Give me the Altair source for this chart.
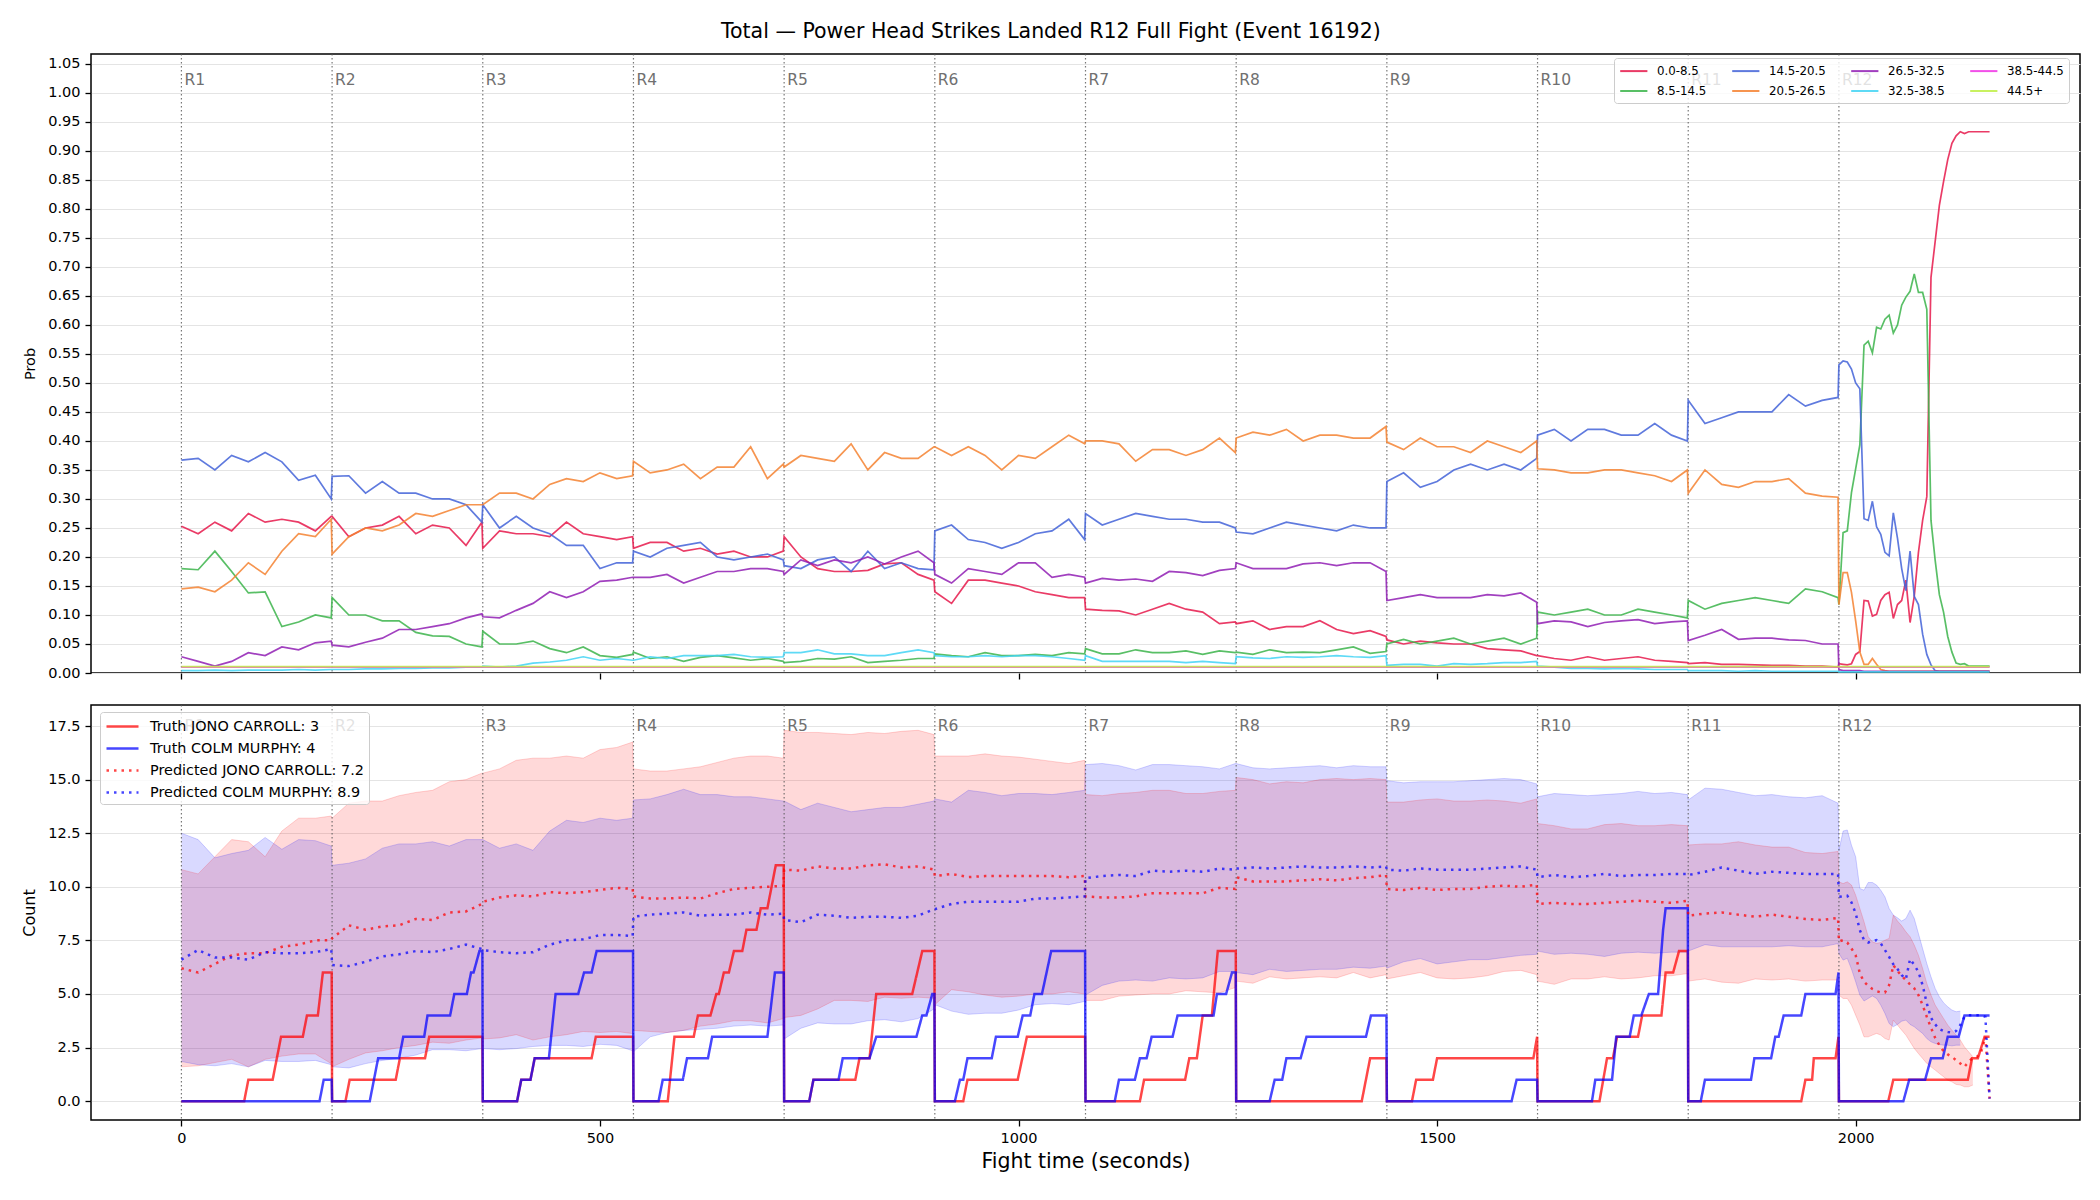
import altair as alt
import pandas as pd

# ---------------- time grids ----------------
ROUND_STARTS = [0, 180, 360, 540, 720, 900, 1080, 1260, 1440, 1620, 1800, 1980]
ROUND_NAMES = ["R1", "R2", "R3", "R4", "R5", "R6", "R7", "R8", "R9", "R10", "R11", "R12"]
STEP_OFFSETS = [0, 20, 40, 60, 80, 100, 120, 140, 160, 179]
R12_OFFSETS = [0, 5, 10, 15, 20, 25, 30, 35, 40, 45, 50, 55, 60, 65, 70, 75, 80, 85, 90,
               95, 100, 105, 110, 115, 120, 125, 130, 135, 140, 145, 150, 155, 160, 165,
               170, 175, 180]
FLAT_T = [0, 180, 360, 540, 720, 900, 1080, 1260, 1440, 1620, 1800, 1980, 2160]

BASE_T = [s + o for s in ROUND_STARTS[:11] for o in STEP_OFFSETS]
GRID_T = BASE_T + [1980 + o for o in R12_OFFSETS]
BAND_T_RED = BASE_T + [1980 + o for o in R12_OFFSETS[:33]]
BAND_T_BLUE = BASE_T + [1980 + o for o in R12_OFFSETS[:30]]

# ---------------- top panel: bucket probabilities ----------------
P_0_8 = [
    0.253, 0.24, 0.26, 0.245, 0.275, 0.26, 0.265, 0.26, 0.245, 0.27,
    0.27, 0.235, 0.25, 0.255, 0.27, 0.24, 0.255, 0.25, 0.22, 0.26,
    0.215, 0.245, 0.24, 0.24, 0.235, 0.26, 0.24, 0.235, 0.23, 0.235,
    0.215, 0.225, 0.225, 0.21, 0.215, 0.205, 0.21, 0.2, 0.2, 0.21,
    0.235, 0.2, 0.18, 0.175, 0.175, 0.177, 0.188, 0.19, 0.17, 0.16,
    0.14, 0.12, 0.16, 0.16, 0.155, 0.15, 0.14, 0.135, 0.13, 0.13,
    0.11, 0.108, 0.107, 0.1, 0.11, 0.12, 0.11, 0.105, 0.085, 0.088,
    0.085, 0.09, 0.075, 0.08, 0.08, 0.09, 0.075, 0.068, 0.073, 0.063,
    0.057, 0.05, 0.055, 0.052, 0.05, 0.05, 0.042, 0.04, 0.038, 0.03,
    0.03, 0.025, 0.022, 0.028, 0.022, 0.025, 0.028, 0.022, 0.02, 0.018,
    0.016, 0.018, 0.015, 0.015, 0.014, 0.013, 0.013, 0.012, 0.012, 0.01,
    0.016, 0.015, 0.014, 0.016, 0.032, 0.037, 0.125, 0.124, 0.098, 0.101, 0.125, 0.135,
    0.139, 0.094, 0.118, 0.125, 0.16, 0.087, 0.132, 0.208, 0.263, 0.304, 0.682, 0.744,
    0.806, 0.847, 0.885, 0.913, 0.926, 0.933, 0.93, 0.933, 0.933, 0.933, 0.933, 0.933, 0.933,
]
P_8_14 = [
    0.18, 0.178, 0.21, 0.175, 0.138, 0.14, 0.08, 0.088, 0.1, 0.095,
    0.13, 0.1, 0.1, 0.09, 0.09, 0.07, 0.064, 0.063, 0.05, 0.045,
    0.072, 0.05, 0.05, 0.055, 0.042, 0.035, 0.045, 0.03, 0.027, 0.032,
    0.036, 0.025, 0.028, 0.02, 0.027, 0.03, 0.026, 0.022, 0.025, 0.02,
    0.018, 0.02, 0.025, 0.024, 0.028, 0.018, 0.02, 0.022, 0.025, 0.025,
    0.033, 0.03, 0.028, 0.035, 0.03, 0.03, 0.032, 0.03, 0.035, 0.033,
    0.042, 0.033, 0.033, 0.04, 0.035, 0.035, 0.038, 0.032, 0.038, 0.035,
    0.036, 0.032, 0.04, 0.035, 0.036, 0.035, 0.04, 0.045, 0.034, 0.037,
    0.05, 0.058, 0.05, 0.055, 0.06, 0.05, 0.055, 0.06, 0.05, 0.06,
    0.105, 0.1, 0.105, 0.11, 0.1, 0.1, 0.11, 0.105, 0.1, 0.095,
    0.125, 0.11, 0.12, 0.125, 0.13, 0.125, 0.12, 0.145, 0.14, 0.13,
    0.118, 0.242, 0.245, 0.311, 0.352, 0.393, 0.565, 0.572, 0.552, 0.596, 0.593, 0.61,
    0.617, 0.586, 0.6, 0.634, 0.648, 0.658, 0.688, 0.656, 0.656, 0.627, 0.263, 0.194,
    0.135, 0.105, 0.063, 0.036, 0.017, 0.015, 0.016, 0.012, 0.012, 0.012, 0.012, 0.012, 0.012,
]
P_14_20 = [
    0.367, 0.37, 0.35, 0.375, 0.364, 0.38, 0.364, 0.332, 0.341, 0.3,
    0.339, 0.34, 0.31, 0.33, 0.31, 0.31, 0.3, 0.3, 0.29, 0.26,
    0.29, 0.25, 0.27, 0.25, 0.24, 0.22, 0.22, 0.18, 0.19, 0.19,
    0.21, 0.2, 0.215, 0.22, 0.225, 0.2, 0.195, 0.2, 0.205, 0.195,
    0.185, 0.18, 0.195, 0.2, 0.175, 0.21, 0.18, 0.19, 0.18, 0.178,
    0.245, 0.255, 0.23, 0.225, 0.215, 0.225, 0.24, 0.245, 0.265, 0.23,
    0.275, 0.255, 0.265, 0.275, 0.27, 0.265, 0.265, 0.26, 0.26, 0.25,
    0.243, 0.24, 0.25, 0.26, 0.255, 0.25, 0.245, 0.255, 0.25, 0.25,
    0.33, 0.345, 0.32, 0.33, 0.35, 0.36, 0.35, 0.36, 0.35, 0.37,
    0.41, 0.42, 0.4, 0.42, 0.42, 0.41, 0.41, 0.43, 0.41, 0.4,
    0.47, 0.43, 0.44, 0.45, 0.45, 0.45, 0.48, 0.46, 0.47, 0.475,
    0.531, 0.538, 0.536, 0.524, 0.5, 0.49, 0.266, 0.263, 0.296, 0.252, 0.239, 0.208,
    0.202, 0.276, 0.232, 0.18, 0.142, 0.21, 0.132, 0.118, 0.067, 0.032, 0.014, 0.004,
    0.003, 0.003, 0.003, 0.003, 0.003, 0.003, 0.003, 0.003, 0.003, 0.003, 0.003, 0.003, 0.003,
]
P_20_26 = [
    0.145, 0.148, 0.14, 0.16, 0.19, 0.17, 0.21, 0.24, 0.235, 0.265,
    0.205, 0.235, 0.25, 0.245, 0.255, 0.275, 0.27, 0.28, 0.29, 0.29,
    0.29, 0.31, 0.31, 0.3, 0.325, 0.335, 0.33, 0.345, 0.335, 0.34,
    0.365, 0.345, 0.35, 0.36, 0.335, 0.355, 0.355, 0.39, 0.335, 0.36,
    0.355, 0.375, 0.37, 0.365, 0.395, 0.35, 0.38, 0.37, 0.37, 0.39,
    0.39, 0.375, 0.39, 0.375, 0.35, 0.375, 0.37, 0.39, 0.41, 0.395,
    0.4, 0.4, 0.395, 0.365, 0.385, 0.385, 0.375, 0.385, 0.405, 0.38,
    0.405, 0.415, 0.41, 0.42, 0.4, 0.41, 0.41, 0.405, 0.405, 0.425,
    0.398, 0.385, 0.405, 0.39, 0.39, 0.38, 0.4, 0.39, 0.38, 0.4,
    0.352, 0.35, 0.345, 0.345, 0.35, 0.35, 0.345, 0.34, 0.33, 0.35,
    0.31, 0.35, 0.325, 0.32, 0.33, 0.33, 0.335, 0.31, 0.305, 0.303,
    0.118, 0.173, 0.173, 0.139, 0.09, 0.036, 0.015, 0.015, 0.025, 0.015, 0.006, 0.004,
    0.003, 0.003, 0.003, 0.003, 0.003, 0.003, 0.003, 0.003, 0.003, 0.003, 0.003, 0.003,
    0.003, 0.003, 0.003, 0.003, 0.003, 0.003, 0.003, 0.003, 0.003, 0.003, 0.003, 0.003, 0.003,
]
P_26_32 = [
    0.028, 0.02, 0.012, 0.02, 0.035, 0.03, 0.045, 0.04, 0.052, 0.055,
    0.048, 0.045, 0.053, 0.06, 0.075, 0.075, 0.08, 0.085, 0.095, 0.102,
    0.097, 0.095, 0.108, 0.12, 0.14, 0.13, 0.14, 0.158, 0.16, 0.165,
    0.165, 0.165, 0.17, 0.155, 0.165, 0.175, 0.175, 0.18, 0.18, 0.175,
    0.17, 0.195, 0.185, 0.195, 0.19, 0.2, 0.188, 0.2, 0.21, 0.19,
    0.17, 0.155, 0.18, 0.175, 0.17, 0.19, 0.19, 0.165, 0.17, 0.165,
    0.155, 0.163, 0.16, 0.162, 0.158, 0.175, 0.173, 0.168, 0.177, 0.18,
    0.19, 0.18, 0.18, 0.18, 0.188, 0.19, 0.185, 0.19, 0.19, 0.175,
    0.125, 0.13, 0.135, 0.13, 0.13, 0.13, 0.135, 0.133, 0.138, 0.122,
    0.085, 0.09, 0.088, 0.08, 0.087, 0.09, 0.092, 0.085, 0.088, 0.09,
    0.056, 0.065, 0.075, 0.058, 0.06, 0.06, 0.057, 0.056, 0.05, 0.05,
    0.006, 0.004, 0.004, 0.004, 0.004, 0.004, 0.003, 0.003, 0.003, 0.003, 0.003, 0.003,
    0.003, 0.003, 0.003, 0.003, 0.003, 0.003, 0.003, 0.003, 0.003, 0.003, 0.003, 0.003,
    0.003, 0.003, 0.003, 0.003, 0.003, 0.003, 0.003, 0.003, 0.003, 0.003, 0.003, 0.003, 0.003,
]
P_32_38 = [
    0.004, 0.004, 0.005, 0.004, 0.005, 0.005, 0.005, 0.006, 0.005, 0.006,
    0.006, 0.006, 0.007, 0.007, 0.008, 0.008, 0.009, 0.009, 0.01, 0.01,
    0.012, 0.01, 0.012, 0.017, 0.019, 0.022, 0.028, 0.022, 0.025, 0.022,
    0.022, 0.028, 0.025, 0.03, 0.03, 0.03, 0.032, 0.028, 0.027, 0.028,
    0.035, 0.035, 0.04, 0.033, 0.033, 0.03, 0.03, 0.035, 0.04, 0.035,
    0.03, 0.028, 0.028, 0.03, 0.028, 0.03, 0.03, 0.028, 0.025, 0.022,
    0.03, 0.02, 0.02, 0.02, 0.02, 0.02, 0.018, 0.02, 0.018, 0.016,
    0.028, 0.026, 0.025, 0.028, 0.027, 0.028, 0.03, 0.028, 0.027, 0.03,
    0.013, 0.015, 0.015, 0.012, 0.016, 0.015, 0.016, 0.018, 0.018, 0.02,
    0.012, 0.01, 0.008, 0.008, 0.007, 0.008, 0.007, 0.006, 0.006, 0.006,
    0.004, 0.004, 0.004, 0.003, 0.004, 0.003, 0.003, 0.003, 0.003, 0.003,
    0.002, 0.002, 0.002, 0.002, 0.002, 0.002, 0.002, 0.002, 0.002, 0.002, 0.002, 0.002,
    0.002, 0.002, 0.002, 0.002, 0.002, 0.002, 0.002, 0.002, 0.002, 0.002, 0.002, 0.002,
    0.002, 0.002, 0.002, 0.002, 0.002, 0.002, 0.002, 0.002, 0.002, 0.002, 0.002, 0.002, 0.002,
]
P_38_44 = [0.01, 0.01, 0.01, 0.01, 0.01, 0.01, 0.01, 0.01, 0.01, 0.01, 0.01, 0.01, 0.01]
P_44_UP = [0.011, 0.011, 0.011, 0.011, 0.011, 0.011, 0.011, 0.011, 0.011, 0.011, 0.011, 0.011, 0.011]

BUCKETS = ["0.0-8.5", "8.5-14.5", "14.5-20.5", "20.5-26.5",
           "26.5-32.5", "32.5-38.5", "38.5-44.5", "44.5+"]
BUCKET_COLORS = ["#e6194b", "#3cb44b", "#4363d8", "#f58231",
                 "#911eb4", "#42d4f4", "#f032e6", "#bfef45"]

# ---------------- bottom panel ----------------
PRED_JONO = [
    6.2, 6.0, 6.4, 6.8, 6.9, 6.9, 7.2, 7.3, 7.5, 7.5,
    7.6, 8.2, 8.0, 8.15, 8.2, 8.5, 8.45, 8.8, 8.85, 9.2,
    9.3, 9.5, 9.6, 9.55, 9.75, 9.7, 9.75, 9.85, 9.95, 9.9,
    9.55, 9.45, 9.45, 9.5, 9.45, 9.7, 9.9, 9.95, 10.0, 10.05,
    10.8, 10.75, 10.95, 10.85, 10.85, 11.0, 11.05, 10.9, 10.95, 10.8,
    10.5, 10.6, 10.45, 10.5, 10.5, 10.5, 10.5, 10.5, 10.45, 10.5,
    9.55, 9.5, 9.5, 9.55, 9.7, 9.7, 9.7, 9.7, 9.95, 9.9,
    10.45, 10.25, 10.25, 10.25, 10.3, 10.35, 10.3, 10.4, 10.45, 10.55,
    9.9, 9.85, 9.95, 9.85, 9.9, 9.9, 10.0, 10.05, 10.0, 10.1,
    9.2, 9.25, 9.2, 9.2, 9.25, 9.3, 9.35, 9.3, 9.25, 9.35,
    8.65, 8.75, 8.8, 8.7, 8.6, 8.7, 8.6, 8.5, 8.45, 8.55,
    7.45, 7.51, 7.4, 7.12, 6.81, 5.96, 5.57, 5.38, 5.23, 5.13, 5.07, 5.07,
    5.41, 6.35, 6.07, 5.85, 5.65, 5.44, 5.26, 4.95, 4.48, 3.93, 3.42, 2.95,
    2.61, 2.33, 2.18, 2.07, 1.91, 1.76, 1.6, 1.84, 2.02, 2.07, 2.3, 3.0, 0.12,
]
PRED_COLM = [
    6.6, 7.05, 6.7, 6.7, 6.6, 6.95, 6.9, 6.9, 6.95, 7.1,
    6.35, 6.3, 6.5, 6.75, 6.85, 7.0, 6.95, 7.1, 7.3, 7.1,
    7.05, 6.95, 6.9, 6.95, 7.3, 7.5, 7.55, 7.75, 7.75, 7.7,
    8.6, 8.7, 8.75, 8.8, 8.65, 8.7, 8.7, 8.8, 8.7, 8.75,
    8.45, 8.35, 8.7, 8.65, 8.55, 8.6, 8.6, 8.55, 8.65, 8.95,
    8.95, 9.2, 9.3, 9.3, 9.3, 9.3, 9.45, 9.45, 9.5, 9.55,
    10.4, 10.5, 10.55, 10.5, 10.75, 10.7, 10.75, 10.7, 10.85, 10.8,
    10.85, 10.9, 10.85, 10.9, 10.95, 10.9, 10.9, 10.95, 10.9, 10.95,
    10.8, 10.75, 10.85, 10.8, 10.8, 10.8, 10.85, 10.9, 10.95, 10.8,
    10.45, 10.55, 10.45, 10.5, 10.6, 10.5, 10.55, 10.55, 10.6, 10.6,
    10.55, 10.7, 10.9, 10.75, 10.6, 10.7, 10.65, 10.6, 10.6, 10.6,
    9.55, 9.53, 9.58, 9.27, 8.76, 7.98, 7.51, 7.4, 7.47, 7.51, 7.36, 7.05,
    6.73, 6.38, 6.16, 5.88, 5.69, 6.63, 6.35, 6.03, 5.41, 4.56, 3.89, 3.58,
    3.36, 3.27, 3.23, 3.2, 3.27, 3.55, 3.93, 4.01, 4.01, 4.01, 4.01, 3.93, 0.12,
]
JONO_HI = [
    10.8, 10.6, 11.4, 12.2, 12.1, 11.4, 12.6, 13.2, 13.2, 13.3,
    13.2, 13.9, 14.0, 14.0, 14.25, 14.4, 14.5, 14.9, 15.0, 15.3,
    15.3, 15.5, 15.9, 16.0, 16.0, 16.1, 16.0, 16.4, 16.5, 16.75,
    15.5, 15.4, 15.4, 15.5, 15.6, 15.8, 16.0, 16.1, 16.1, 16.0,
    17.3, 17.2, 17.2, 17.15, 17.1, 17.2, 17.15, 17.25, 17.3, 17.1,
    16.1, 16.1, 16.1, 16.2, 16.1, 16.05, 15.95, 15.85, 15.75, 15.9,
    14.3, 14.25, 14.35, 14.4, 14.5, 14.5, 14.35, 14.35, 14.45, 14.5,
    15.1, 15.0, 14.8, 14.9, 14.85, 15.0, 15.05, 15.0, 15.05, 15.0,
    13.95, 13.95, 14.05, 14.1, 14.0, 14.0, 14.05, 14.0, 13.9, 14.1,
    12.95, 12.85, 12.7, 12.7, 12.9, 12.95, 12.85, 12.85, 12.9, 12.85,
    11.95, 12.0, 12.0, 12.1, 11.95, 11.85, 11.85, 11.6, 11.55, 11.65,
    10.23, 10.15, 10.23, 10.08, 9.61, 8.99, 8.37, 7.67, 7.43, 7.36, 7.4, 7.51,
    7.59, 8.68, 8.4, 8.18, 7.9, 7.67, 7.28, 6.81, 6.19, 5.49, 4.95, 4.48,
    4.17, 3.86, 3.55, 3.31, 3.08, 2.85, 2.53, 2.3, 2.07,
]
JONO_LO = [
    1.6, 1.65, 1.8, 1.95, 1.6, 1.95, 2.1, 2.2, 2.2, 1.75,
    1.6, 1.95, 2.25, 2.35, 2.5, 2.6, 2.75, 2.7, 2.85, 2.95,
    2.9, 2.95, 3.1, 2.85, 3.0, 3.1, 3.25, 3.2, 3.25, 3.15,
    3.3, 3.25, 3.2, 3.3, 3.5, 3.6, 3.75, 3.75, 3.65, 3.85,
    3.9, 4.0, 4.3, 4.7, 4.7, 4.65, 4.85, 4.8, 4.85, 4.8,
    4.5, 5.2, 5.1, 4.95, 4.85, 4.9, 5.0, 5.0, 5.1, 5.0,
    4.7, 4.7, 4.9, 4.95, 5.0, 5.0, 5.15, 5.1, 5.05, 5.3,
    5.6, 5.5, 5.8, 5.7, 5.75, 5.8, 5.75, 6.0, 5.75, 5.9,
    5.7, 5.85, 6.0, 5.75, 5.7, 5.75, 5.85, 6.05, 6.1, 5.9,
    5.6, 5.45, 5.7, 5.7, 5.8, 5.7, 5.75, 5.85, 5.85, 5.95,
    5.6, 5.7, 5.55, 5.5, 5.7, 5.65, 5.7, 5.6, 5.65, 5.65,
    4.95, 4.79, 4.79, 4.48, 4.01, 3.55, 3.0, 3.0, 3.08, 3.16, 3.08, 2.92,
    2.85, 3.78, 3.55, 3.31, 3.08, 2.77, 2.46, 2.22, 1.99, 1.76, 1.6, 1.45,
    1.29, 1.14, 0.98, 0.9, 0.78, 0.75, 0.67, 0.67, 0.75,
]
COLM_HI = [
    12.5, 12.2, 11.35, 11.55, 11.7, 12.3, 11.75, 12.2, 12.15, 11.9,
    11.0, 11.1, 11.3, 11.8, 12.0, 12.0, 12.1, 11.9, 12.2, 12.2,
    12.2, 11.8, 12.0, 11.7, 12.6, 13.1, 13.0, 13.2, 13.1, 13.2,
    14.05, 14.1, 14.3, 14.55, 14.3, 14.3, 14.2, 14.2, 14.1, 14.0,
    14.0, 13.6, 13.9, 13.7, 13.5, 13.6, 13.7, 13.7, 13.85, 14.0,
    14.1, 13.95, 14.5, 14.4, 14.25, 14.35, 14.35, 14.3, 14.4, 14.5,
    15.7, 15.75, 15.65, 15.45, 15.7, 15.7, 15.65, 15.6, 15.5, 15.75,
    15.75, 15.55, 15.5, 15.55, 15.6, 15.65, 15.55, 15.65, 15.6, 15.6,
    14.95, 14.85, 14.9, 14.9, 14.9, 14.95, 15.0, 15.05, 15.0, 14.8,
    14.2, 14.35, 14.3, 14.25, 14.3, 14.35, 14.45, 14.35, 14.4, 14.3,
    14.05, 14.6, 14.55, 14.4, 14.25, 14.3, 14.2, 14.15, 14.25, 13.9,
    11.7, 12.6, 12.65, 11.94, 11.4, 9.92, 9.84, 10.2, 10.2, 10.08, 9.84, 9.53,
    8.99, 8.68, 8.55, 8.4, 8.52, 8.91, 8.52, 7.82, 7.12, 6.42, 5.8, 5.26,
    4.87, 4.59, 4.4, 4.25, 4.17, 4.2,
]
COLM_LO = [
    1.85, 1.7, 1.65, 1.75, 1.6, 1.9, 1.85, 1.85, 1.9, 1.7,
    1.6, 1.55, 1.75, 1.9, 2.0, 2.15, 2.4, 2.4, 2.35, 2.45,
    2.45, 2.4, 2.45, 2.55, 2.6, 2.6, 2.55, 2.65, 2.6, 2.35,
    2.3, 3.0, 3.2, 3.3, 3.35, 3.4, 3.5, 3.55, 3.5, 3.55,
    2.9, 3.4, 3.65, 3.6, 3.6, 3.75, 3.8, 3.7, 3.85, 4.3,
    4.5, 4.2, 4.05, 4.1, 4.1, 4.25, 4.5, 4.55, 4.5, 4.65,
    4.95, 5.4, 5.6, 5.65, 5.6, 5.75, 5.7, 5.75, 6.05, 6.05,
    6.0, 5.9, 6.15, 6.05, 6.1, 6.15, 6.15, 6.25, 6.2, 6.3,
    6.2, 6.5, 6.65, 6.4, 6.5, 6.6, 6.6, 6.7, 6.8, 6.85,
    7.0, 6.85, 6.9, 6.85, 6.75, 6.9, 6.95, 6.9, 6.95, 6.95,
    7.0, 7.3, 7.2, 7.2, 7.2, 7.2, 7.25, 7.2, 7.2, 7.35,
    6.89, 6.58, 6.66, 6.16, 5.57, 4.95, 4.67, 4.79, 4.91, 4.79, 4.48, 4.09,
    3.62, 3.47, 3.58, 3.73, 3.78, 3.58, 3.47, 3.31, 3.16, 2.92, 2.77, 2.69,
    2.64, 2.61, 2.61, 2.58, 2.61, 2.61,
]

# truth step lines (vertex times and counts, reset at every round)
TRUTH_JONO_T = [0, 75, 80, 109, 119, 145, 150, 163, 169, 179.5,
                180, 196, 201, 256, 261, 291, 296, 359.5,
                360, 401, 406, 417, 422, 490, 495, 539.5,
                540, 581, 589, 612, 617, 632, 639, 642, 648, 654, 660, 670, 675, 687, 692, 700, 710, 719.5,
                720, 750, 755, 805, 810, 822, 830, 873, 885, 899.5,
                900, 934, 939, 999, 1010, 1079.5,
                1080, 1145, 1150, 1199, 1204, 1213, 1220, 1231, 1238, 1259.5,
                1260, 1410, 1420, 1439.5,
                1440, 1470, 1475, 1495, 1500, 1615, 1619.5,
                1620, 1694, 1703, 1710, 1715, 1740, 1745, 1768, 1773, 1782, 1789, 1799.5,
                1800, 1935, 1940, 1948, 1950, 1976, 1979.5,
                1980, 2039, 2045, 2134, 2139, 2146, 2154, 2160]
TRUTH_JONO_V = [0, 0, 1, 1, 3, 3, 4, 4, 6, 6,
                0, 0, 1, 1, 2, 2, 3, 3,
                0, 0, 1, 1, 2, 2, 3, 3,
                0, 0, 3, 3, 4, 4, 5, 5, 6, 6, 7, 7, 8, 8, 9, 9, 11, 11,
                0, 0, 1, 1, 2, 2, 5, 5, 7, 7,
                0, 0, 1, 1, 3, 3,
                0, 0, 1, 1, 2, 2, 4, 4, 7, 7,
                0, 0, 2, 2,
                0, 0, 1, 1, 2, 2, 3,
                0, 0, 2, 2, 3, 3, 4, 4, 6, 6, 7, 7,
                0, 0, 1, 1, 2, 2, 3,
                0, 0, 1, 1, 2, 2, 3, 3]
TRUTH_COLM_T = [0, 165, 170, 179.5,
                180, 225, 235, 260, 265, 290, 294, 321, 326, 341, 346, 349, 356, 359.5,
                360, 401, 406, 417, 422, 439, 447, 474, 481, 490, 496, 539.5,
                540, 570, 575, 599, 604, 629, 634, 700, 709, 719.5,
                720, 750, 755, 785, 790, 822, 830, 878, 885, 890, 897, 899.5,
                900, 924, 930, 934, 939, 968, 973, 999, 1005, 1014, 1019, 1028, 1039, 1079.5,
                1080, 1115, 1120, 1139, 1145, 1153, 1159, 1184, 1190, 1233, 1237, 1248, 1255, 1259.5,
                1260, 1300, 1306, 1315, 1320, 1337, 1344, 1415, 1421, 1439.5,
                1440, 1589, 1595, 1619.5,
                1620, 1685, 1689, 1709, 1714, 1730, 1735, 1744, 1753, 1764, 1770, 1773, 1799.5,
                1800, 1815, 1820, 1875, 1879, 1899, 1904, 1908, 1914, 1935, 1940, 1976, 1979.5,
                1980, 2057, 2064, 2083, 2090, 2104, 2110, 2123, 2130, 2160]
TRUTH_COLM_V = [0, 0, 1, 1,
                0, 0, 2, 2, 3, 3, 4, 4, 5, 5, 6, 6, 7, 7,
                0, 0, 1, 1, 2, 2, 5, 5, 6, 6, 7, 7,
                0, 0, 1, 1, 2, 2, 3, 3, 6, 6,
                0, 0, 1, 1, 2, 2, 3, 3, 4, 4, 5, 5,
                0, 0, 1, 1, 2, 2, 3, 3, 4, 4, 5, 5, 7, 7,
                0, 0, 1, 1, 2, 2, 3, 3, 4, 4, 5, 5, 6, 6,
                0, 0, 1, 1, 2, 2, 3, 3, 4, 4,
                0, 0, 1, 1,
                0, 0, 1, 1, 3, 3, 4, 4, 5, 5, 8, 9, 9,
                0, 0, 1, 1, 2, 2, 3, 3, 4, 4, 5, 5, 6,
                0, 0, 1, 1, 2, 2, 3, 3, 4, 4]

SERIES_NAMES = ["Truth JONO CARROLL: 3", "Truth COLM MURPHY: 4",
                "Predicted JONO CARROLL: 7.2", "Predicted COLM MURPHY: 8.9"]

TITLE = "Total \u2014 Power Head Strikes Landed R12 Full Fight (Event 16192)"

# ---------------- data frames ----------------
prob_rows = []
for name, vals in [("0.0-8.5", P_0_8), ("8.5-14.5", P_8_14), ("14.5-20.5", P_14_20),
                   ("20.5-26.5", P_20_26), ("26.5-32.5", P_26_32), ("32.5-38.5", P_32_38)]:
    for t, v in zip(GRID_T, vals):
        prob_rows.append({"t": t, "p": v, "bucket": name})
for name, vals in [("38.5-44.5", P_38_44), ("44.5+", P_44_UP)]:
    for t, v in zip(FLAT_T, vals):
        prob_rows.append({"t": t, "p": v, "bucket": name})
prob_df = pd.DataFrame(prob_rows)

rounds_df = pd.DataFrame({"t": ROUND_STARTS, "label": ROUND_NAMES})

series_rows = []
for t, v in zip(TRUTH_JONO_T, TRUTH_JONO_V):
    series_rows.append({"t": t, "v": v, "series": SERIES_NAMES[0]})
for t, v in zip(TRUTH_COLM_T, TRUTH_COLM_V):
    series_rows.append({"t": t, "v": v, "series": SERIES_NAMES[1]})
for t, v in zip(GRID_T, PRED_JONO):
    series_rows.append({"t": t, "v": v, "series": SERIES_NAMES[2]})
for t, v in zip(GRID_T, PRED_COLM):
    series_rows.append({"t": t, "v": v, "series": SERIES_NAMES[3]})
series_df = pd.DataFrame(series_rows)

band_red_df = pd.DataFrame({"t": BAND_T_RED, "lo": JONO_LO, "hi": JONO_HI})
band_blue_df = pd.DataFrame({"t": BAND_T_BLUE, "lo": COLM_LO, "hi": COLM_HI})

# ---------------- scales / axes ----------------
W = 1989
X_SCALE = alt.Scale(domain=[-108, 2268], nice=False, zero=False)
X_TICKS = [0, 500, 1000, 1500, 2000]
X_AXIS_TOP = alt.Axis(values=X_TICKS, labels=False, title=None, grid=False, domain=False,
                      ticks=True, tickSize=6)
X_AXIS_BOT = alt.Axis(values=X_TICKS, format="d", title="Fight time (seconds)", grid=False,
                      domain=False, tickSize=6, labelPadding=5, titleFontSize=20.5,
                      titlePadding=7, labelFlush=False)

Y_TOP_SCALE = alt.Scale(domain=[0, 1.067], nice=False, zero=False)
Y_TOP_AXIS = alt.Axis(values=[round(i * 0.05, 2) for i in range(22)], format=".2f",
                      title="Prob", titleFontSize=14.5, titlePadding=10, grid=True,
                      domain=False, tickSize=6, labelPadding=5)
Y_BOT_SCALE = alt.Scale(domain=[-0.88, 18.48], nice=False, zero=False)
Y_BOT_AXIS = alt.Axis(values=[0, 2.5, 5, 7.5, 10, 12.5, 15, 17.5], format=".1f",
                      title="Count", titleFontSize=16, titlePadding=10, grid=True,
                      domain=False, tickSize=6, labelPadding=5)

# legend line symbol: a stroke longer than the layout box so rows stay compact
LINE_SYMBOL = "M-1,0L3,0"

# ---------------- top panel ----------------
top_lines = alt.Chart(prob_df).mark_line(strokeWidth=1.7, opacity=0.85).encode(
    x=alt.X("t:Q", scale=X_SCALE, axis=X_AXIS_TOP),
    y=alt.Y("p:Q", scale=Y_TOP_SCALE, axis=Y_TOP_AXIS),
    color=alt.Color("bucket:N",
                    scale=alt.Scale(domain=BUCKETS, range=BUCKET_COLORS),
                    legend=alt.Legend(orient="none", legendX=1523, legendY=4, columns=4,
                                      title=None, labelFontSize=11.8, symbolType=LINE_SYMBOL,
                                      symbolSize=185, symbolStrokeWidth=2,
                                      symbolFillColor="transparent",
                                      fillColor="rgba(255,255,255,0.8)", strokeColor="#cccccc",
                                      padding=5, cornerRadius=3, rowPadding=5,
                                      columnPadding=21, labelOffset=22)),
)
top_rules = alt.Chart(rounds_df).mark_rule(color="#555555", strokeDash=[1.5, 2.5],
                                           strokeWidth=1.2, opacity=0.8).encode(
    x=alt.X("t:Q", scale=X_SCALE, axis=X_AXIS_TOP))
top_text = alt.Chart(rounds_df).mark_text(align="left", baseline="top", dx=3, fontSize=15.5,
                                          color="#707070").encode(
    x=alt.X("t:Q", scale=X_SCALE, axis=X_AXIS_TOP), y=alt.value(19), text="label:N")

top = alt.layer(top_rules, top_lines, top_text).properties(width=W, height=619)

# ---------------- bottom panel ----------------
def band_area(df, color):
    return alt.Chart(df).mark_area(color=color, opacity=0.15).encode(
        x=alt.X("t:Q", scale=X_SCALE, axis=X_AXIS_BOT),
        y=alt.Y("lo:Q", scale=Y_BOT_SCALE, axis=Y_BOT_AXIS),
        y2="hi:Q")


def band_edge(df, color, field):
    return alt.Chart(df).mark_line(color=color, opacity=0.17, strokeWidth=1).encode(
        x=alt.X("t:Q", scale=X_SCALE, axis=X_AXIS_BOT),
        y=alt.Y(field + ":Q", scale=Y_BOT_SCALE, axis=Y_BOT_AXIS))


BOT_LEGEND = alt.Legend(orient="none", legendX=9, legendY=7, title=None,
                        labelFontSize=14.4, symbolType=LINE_SYMBOL, symbolSize=256,
                        symbolStrokeWidth=2.5, symbolFillColor="transparent",
                        fillColor="rgba(255,255,255,0.8)", strokeColor="#cccccc",
                        padding=5, cornerRadius=3, rowPadding=6, labelOffset=26,
                        labelLimit=0)

bot_rules = alt.Chart(rounds_df).mark_rule(color="#555555", strokeDash=[1.5, 2.5],
                                           strokeWidth=1.2, opacity=0.8).encode(
    x=alt.X("t:Q", scale=X_SCALE, axis=X_AXIS_BOT))
bot_lines = alt.Chart(series_df).mark_line(strokeWidth=2.5).encode(
    x=alt.X("t:Q", scale=X_SCALE, axis=X_AXIS_BOT),
    y=alt.Y("v:Q", scale=Y_BOT_SCALE, axis=Y_BOT_AXIS),
    color=alt.Color("series:N",
                    scale=alt.Scale(domain=SERIES_NAMES,
                                    range=["#ff0000", "#0000ff", "#ff0000", "#0000ff"]),
                    legend=BOT_LEGEND),
    strokeDash=alt.StrokeDash("series:N",
                              scale=alt.Scale(domain=SERIES_NAMES,
                                              range=[[1, 0], [1, 0], [2.5, 5], [2.5, 5]]),
                              legend=BOT_LEGEND),
    opacity=alt.Opacity("series:N",
                        scale=alt.Scale(domain=SERIES_NAMES, range=[0.72, 0.72, 0.55, 0.55]),
                        legend=BOT_LEGEND),
)
bot_text = alt.Chart(rounds_df).mark_text(align="left", baseline="top", dx=3, fontSize=15.5,
                                          color="#707070").encode(
    x=alt.X("t:Q", scale=X_SCALE, axis=X_AXIS_BOT), y=alt.value(14), text="label:N")

bottom = alt.layer(
    band_area(band_red_df, "#ff0000"), band_area(band_blue_df, "#0000ff"),
    band_edge(band_red_df, "#ff0000", "lo"), band_edge(band_red_df, "#ff0000", "hi"),
    band_edge(band_blue_df, "#0000ff", "lo"), band_edge(band_blue_df, "#0000ff", "hi"),
    bot_rules, bot_lines, bot_text,
).properties(width=W, height=415)

chart = alt.vconcat(top, bottom, spacing=22).resolve_scale(
    color="independent", strokeDash="independent", opacity="independent",
    x="independent", y="independent"
).resolve_legend(
    color="independent", strokeDash="independent", opacity="independent"
).properties(
    title=alt.TitleParams(TITLE, fontSize=20.5, fontWeight="normal", anchor="middle",
                          offset=10, color="black"),
    padding={"left": 20, "top": 22, "right": 5, "bottom": 5},
).configure(font="DejaVu Sans").configure_view(
    stroke="black", strokeWidth=1.5
).configure_axis(
    labelFontSize=14.5, labelColor="black", tickColor="black", tickWidth=1.3,
    titleColor="black", titleFontWeight="normal", gridColor="#e4e4e4", gridWidth=1
).configure_legend(labelColor="black")

chart.save("out.html", embed_options={"renderer": "svg", "actions": False})
